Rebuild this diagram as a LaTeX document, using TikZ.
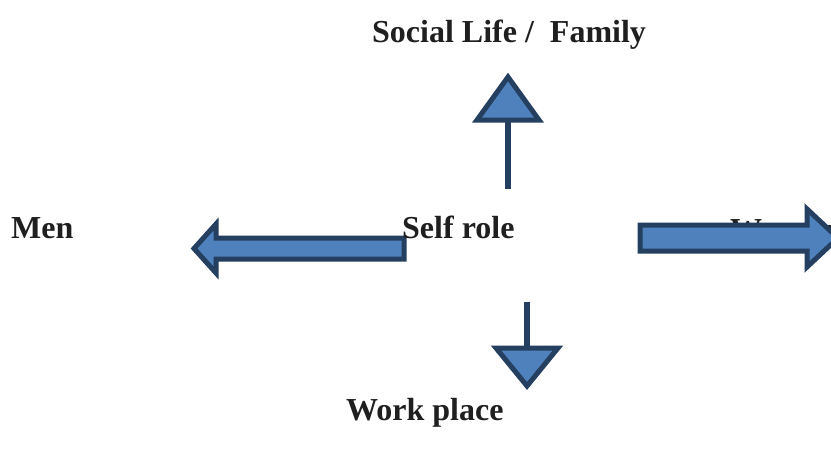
\documentclass[tikz,border=0pt]{standalone}
\usepackage{fontspec}
\setmainfont{Liberation Serif}
\begin{document}
\begin{tikzpicture}[x=1pt,y=-1pt,
  lbl/.style={anchor=base west,inner sep=0pt,text=black!88,font=\fontsize{32}{36}\selectfont\bfseries},
  blockarrow/.style={fill=arrowfill,draw=arrowline,line width=5pt,line join=miter},
  stem/.style={draw=arrowline,line width=5.5pt}]
\definecolor{arrowfill}{HTML}{4F81BD}
\definecolor{arrowline}{HTML}{243F60}
\useasboundingbox (0,0) rectangle (831,450);

% labels of the four directions
\node[lbl] (social) at (372,42) {Social Life /\ \ Family};
\node[lbl] (men) at (11,238) {Men};
\node[lbl] (women) at (730,240) {Women};
\node[lbl] (work) at (346,420) {Work place};

% upward arrow
\coordinate (upbase) at (508,189);
\coordinate (upneck) at (508,121);
\draw[stem] (upbase) -- (upneck);
\draw[blockarrow] (508,77) -- (477,120) -- (539,120) -- cycle;

% downward arrow
\coordinate (downtop) at (527,302);
\coordinate (downneck) at (527,347);
\draw[stem] (downtop) -- (downneck);
\draw[blockarrow] (496,348) -- (558,348) -- (527,386) -- cycle;

% leftward block arrow
\draw[blockarrow] (404,238) -- (216,238) -- (216,224) -- (194,248.5)
  -- (216,273) -- (216,259) -- (404,259) -- cycle;

% rightward block arrow, partly covering its label
\draw[blockarrow] (640,225) -- (807,225) -- (807,209) -- (838,238)
  -- (807,267) -- (807,251) -- (640,251) -- cycle;

% centre label
\node[lbl] (self) at (402,238) {Self role};
\end{tikzpicture}
\end{document}
